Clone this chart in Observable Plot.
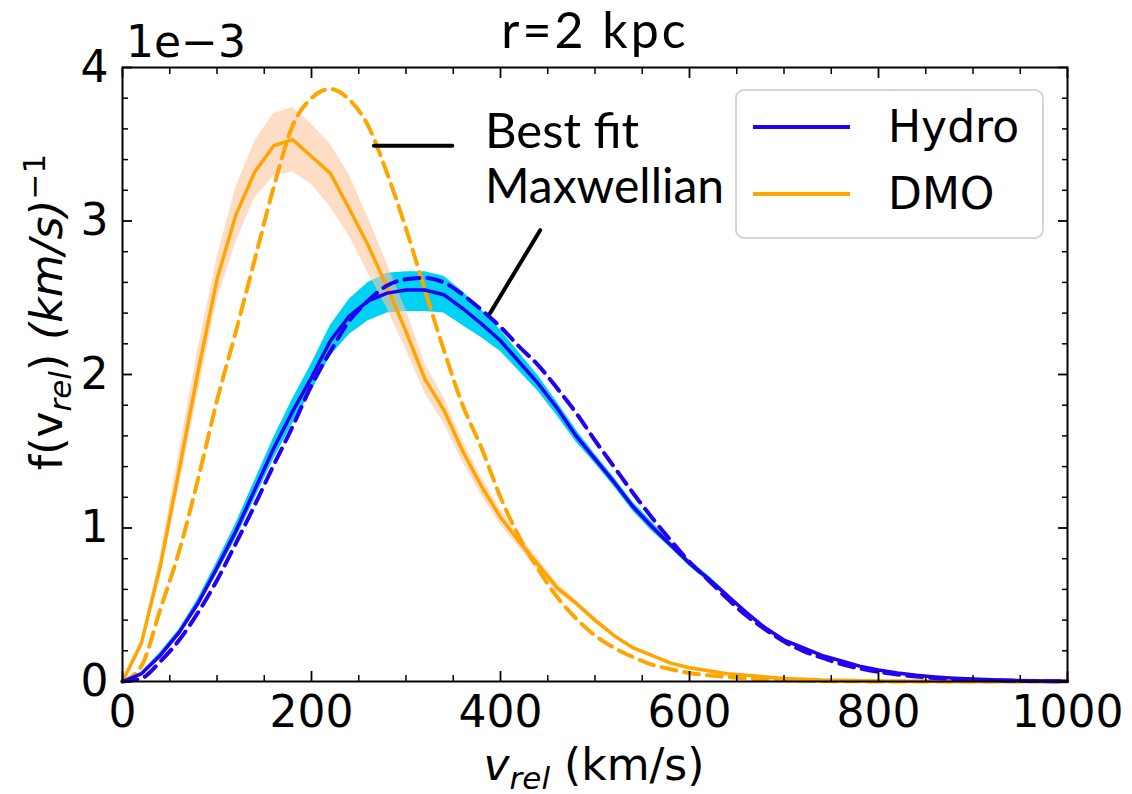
<!DOCTYPE html>
<html>
<head>
<meta charset="utf-8">
<script src="https://cdn.jsdelivr.net/npm/d3@7"></script>
<script src="https://cdn.jsdelivr.net/npm/@observablehq/plot@0.6"></script>
<style>
  html, body { margin: 0; padding: 0; background: white; }
  #chart svg { display: block; }
</style>
</head>
<body>
<div id="chart"></div>
<script>
// Relative velocity grid (km/s)
const vrel = [0,20,40,60,80,100,120,140,160,180,200,220,240,260,280,300,320,340,360,380,400,420,440,460,480,500,520,540,560,580,600,620,640,660,680,700,720,740,760,780,800,820,840,860,880,900,920,940,960,980,1000];

// f(v_rel) in units of 1e-3 (km/s)^-1
const hydro    = [0,0.05,0.17,0.32,0.51,0.74,0.98,1.25,1.52,1.76,1.98,2.22,2.38,2.48,2.53,2.55,2.55,2.52,2.43,2.33,2.22,2.08,1.94,1.78,1.60,1.45,1.30,1.14,1.01,0.89,0.77,0.67,0.56,0.45,0.35,0.27,0.22,0.17,0.135,0.10,0.075,0.055,0.04,0.03,0.022,0.016,0.012,0.008,0.005,0.003,0.002];
const hydroHi  = [0,0.06,0.19,0.34,0.54,0.78,1.03,1.31,1.59,1.84,2.07,2.32,2.49,2.60,2.66,2.67,2.67,2.64,2.54,2.42,2.29,2.14,1.99,1.82,1.64,1.48,1.33,1.17,1.04,0.91,0.79,0.69,0.575,0.46,0.36,0.28,0.225,0.175,0.14,0.105,0.078,0.057,0.042,0.031,0.023,0.017,0.012,0.008,0.005,0.003,0.002];
const hydroLo  = [0,0.04,0.15,0.30,0.48,0.70,0.93,1.19,1.45,1.68,1.89,2.12,2.26,2.35,2.40,2.41,2.41,2.40,2.32,2.24,2.15,2.02,1.89,1.73,1.56,1.42,1.27,1.11,0.98,0.87,0.75,0.65,0.545,0.44,0.34,0.26,0.215,0.165,0.13,0.095,0.072,0.053,0.038,0.029,0.021,0.015,0.011,0.007,0.004,0.002,0.001];
const hydroFit = [0,0.02,0.13,0.27,0.45,0.66,0.90,1.15,1.41,1.66,1.93,2.15,2.35,2.48,2.58,2.62,2.63,2.60,2.52,2.42,2.31,2.18,2.06,1.91,1.75,1.57,1.40,1.23,1.07,0.92,0.78,0.66,0.54,0.43,0.34,0.26,0.20,0.155,0.115,0.085,0.062,0.045,0.032,0.023,0.016,0.011,0.008,0.005,0.003,0.002,0.001];

const dmo    = [0,0.25,0.75,1.38,2.02,2.62,3.04,3.32,3.49,3.53,3.42,3.31,3.08,2.84,2.57,2.28,1.97,1.77,1.50,1.27,1.07,0.91,0.76,0.61,0.51,0.40,0.30,0.22,0.17,0.12,0.09,0.07,0.05,0.04,0.03,0.02,0.015,0.01,0.008,0.005,0.003,0.002,0.001,0.001,0,0,0,0,0,0,0];
const dmoHi  = [0,0.27,0.82,1.50,2.17,2.76,3.22,3.52,3.70,3.74,3.63,3.50,3.30,3.02,2.72,2.42,2.07,1.85,1.57,1.33,1.12,0.95,0.80,0.64,0.53,0.42,0.31,0.23,0.18,0.125,0.095,0.073,0.053,0.042,0.032,0.021,0.016,0.011,0.008,0.005,0.003,0.002,0.001,0.001,0,0,0,0,0,0,0];
const dmoLo  = [0,0.23,0.68,1.27,1.88,2.48,2.86,3.15,3.29,3.32,3.24,3.09,2.90,2.66,2.43,2.16,1.88,1.68,1.43,1.21,1.02,0.87,0.72,0.58,0.49,0.38,0.29,0.21,0.16,0.115,0.085,0.067,0.047,0.038,0.028,0.019,0.014,0.009,0.007,0.004,0.002,0.001,0.0005,0.0005,0,0,0,0,0,0,0];
const dmoFit = [0,0.1,0.47,0.85,1.32,1.83,2.28,2.75,3.22,3.62,3.80,3.86,3.79,3.62,3.31,2.95,2.55,2.16,1.80,1.52,1.20,0.94,0.73,0.55,0.41,0.30,0.22,0.16,0.11,0.08,0.055,0.04,0.03,0.02,0.012,0.008,0.005,0.003,0.002,0.001,0,0,0,0,0,0,0,0,0,0,0];

// Ticks
const xMajor = [0,200,400,600,800,1000];
const xMinor = [50,100,150,250,300,350,450,500,550,650,700,750,850,900,950];
const yMajor = [0,1,2,3,4];
const yMinor = [0.2,0.4,0.6,0.8,1.2,1.4,1.6,1.8,2.2,2.4,2.6,2.8,3.2,3.4,3.6,3.8];

// Legend / labels
const seriesNames = ["Hydro", "DMO"];
const seriesColors = ["#2200f0", "#ffa500"];

// Annotation pointer lines (data coordinates)
const pointerA = [{v:266, f:3.49},{v:349, f:3.49}];
const pointerB = [{v:442, f:2.94},{v:389, f:2.40}];

const data = vrel.map((v, i) => ({
  v, hydro: hydro[i], hydroHi: hydroHi[i], hydroLo: hydroLo[i], hydroFit: hydroFit[i],
  dmo: dmo[i], dmoHi: dmoHi[i], dmoLo: dmoLo[i], dmoFit: dmoFit[i]
}));

const blank = () => "";
const plain = d => String(d);
const plot = Plot.plot({
  width: 1132, height: 794,
  marginLeft: 122, marginRight: 65, marginTop: 67, marginBottom: 113,
  x: {domain: [0, 1000]},
  y: {domain: [0, 4]},
  style: {fontFamily: "DejaVu Sans", fontSize: "44px", color: "black", background: "white", overflow: "visible"},
  marks: [
    Plot.areaY(data, {x: "v", y1: "hydroLo", y2: "hydroHi", fill: "#00d2f5"}),
    Plot.areaY(data, {x: "v", y1: "dmoLo", y2: "dmoHi", fill: "#fbc7a0", fillOpacity: 0.6}),
    Plot.line(data, {x: "v", y: "dmo", stroke: seriesColors[1], strokeWidth: 3.5}),
    Plot.line(data, {x: "v", y: "dmoFit", stroke: seriesColors[1], strokeWidth: 4, strokeDasharray: "15,8", curve: "monotone-x"}),
    Plot.line(data, {x: "v", y: "hydro", stroke: seriesColors[0], strokeWidth: 3.5}),
    Plot.line(data, {x: "v", y: "hydroFit", stroke: seriesColors[0], strokeWidth: 4, strokeDasharray: "15,8", curve: "monotone-x"}),
    Plot.line(pointerA, {x: "v", y: "f", stroke: "black", strokeWidth: 4}),
    Plot.line(pointerB, {x: "v", y: "f", stroke: "black", strokeWidth: 4}),
    Plot.frame({stroke: "black", strokeWidth: 2}),
    // inward ticks
    Plot.axisX(xMajor, {anchor: "bottom", tickSize: -10, tickFormat: blank, label: null, strokeWidth: 1.8}),
    Plot.axisX(xMinor, {anchor: "bottom", tickSize: -6, tickFormat: blank, label: null, strokeWidth: 1.5}),
    Plot.axisX(xMajor, {anchor: "top", tickSize: -10, tickFormat: blank, label: null, strokeWidth: 1.8}),
    Plot.axisX(xMinor, {anchor: "top", tickSize: -6, tickFormat: blank, label: null, strokeWidth: 1.5}),
    Plot.axisY(yMajor, {anchor: "left", tickSize: -10, tickFormat: blank, label: null, strokeWidth: 1.8}),
    Plot.axisY(yMinor, {anchor: "left", tickSize: -6, tickFormat: blank, label: null, strokeWidth: 1.5}),
    Plot.axisY(yMajor, {anchor: "right", tickSize: -10, tickFormat: blank, label: null, strokeWidth: 1.8}),
    Plot.axisY(yMinor, {anchor: "right", tickSize: -6, tickFormat: blank, label: null, strokeWidth: 1.5}),
    // labels
    Plot.axisX(xMajor, {anchor: "bottom", tickSize: 0, tickPadding: 14, label: null, fontSize: 44, tickFormat: plain}),
    Plot.axisY(yMajor, {anchor: "left", tickSize: 0, tickPadding: 14, label: null, fontSize: 44, tickFormat: plain})
  ]
});
document.getElementById("chart").append(plot);

const svg = d3.select(plot);
const F = "DejaVu Sans";
const G = "Lato";

// offset exponent
svg.append("text").attr("x", 126).attr("y", 57).attr("text-anchor", "start")
  .attr("font-family", F).attr("font-size", 44).text("1e\u22123");

// title
svg.append("text").attr("x", 595).attr("y", 48).attr("text-anchor", "middle")
  .attr("font-family", G).attr("font-size", 50).attr("letter-spacing", 3).text("r=2 kpc");

// x label
const xl = svg.append("text").attr("x", 594).attr("y", 780).attr("text-anchor", "middle")
  .attr("font-family", F).attr("font-size", 44);
xl.append("tspan").attr("font-style", "italic").text("v");
xl.append("tspan").attr("font-style", "italic").attr("font-size", 31).attr("dy", 9).text("rel");
xl.append("tspan").attr("dy", -9).text(" (km/s)");

// y label
const yl = svg.append("text").attr("transform", "translate(62,312) rotate(-90)").attr("text-anchor", "middle")
  .attr("font-family", F).attr("font-size", 44);
yl.append("tspan").text("f(v");
yl.append("tspan").attr("font-style", "italic").attr("font-size", 31).attr("dy", 9).text("rel");
yl.append("tspan").attr("dy", -9).text(") ");
yl.append("tspan").attr("font-style", "italic").text("(km/s)");
yl.append("tspan").attr("font-size", 31).attr("dy", -17).text("\u22121");

// annotation text
svg.append("text").attr("x", 485).attr("y", 148).attr("text-anchor", "start")
  .attr("font-family", G).attr("font-size", 49).text("Best fit");
svg.append("text").attr("x", 485).attr("y", 203).attr("text-anchor", "start")
  .attr("font-family", G).attr("font-size", 48).text("Maxwellian");

// legend
const lg = svg.append("g");
lg.append("rect").attr("x", 736).attr("y", 90).attr("width", 307).attr("height", 148).attr("rx", 8)
  .attr("fill", "white").attr("fill-opacity", 0.85).attr("stroke", "#d4d4d4").attr("stroke-width", 2);
const rowY = [127, 194];
seriesNames.forEach((name, i) => {
  lg.append("line").attr("x1", 753).attr("x2", 850).attr("y1", rowY[i]).attr("y2", rowY[i])
    .attr("stroke", seriesColors[i]).attr("stroke-width", 4);
  lg.append("text").attr("x", 888).attr("y", rowY[i] + 15).attr("text-anchor", "start")
    .attr("font-family", F).attr("font-size", 44).text(name);
});
</script>
</body>
</html>
